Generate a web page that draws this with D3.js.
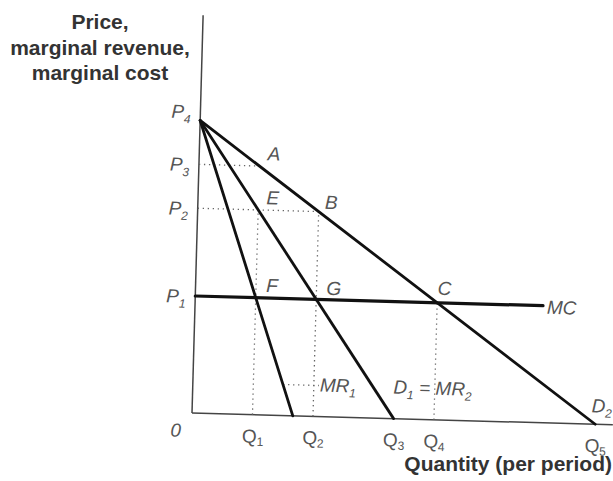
<!DOCTYPE html>
<html>
<head>
<meta charset="utf-8">
<script src="https://cdn.jsdelivr.net/npm/d3@7"></script>
<style>
  body { margin: 0; background: #fff; }
  svg { display: block; }
</style>
</head>
<body>
<div id="chart"></div>
<script>
// price levels on the vertical axis
const priceNames = ["P1", "P2", "P3", "P4"];
const priceLevels = [4, 7, 8.5, 10];

// quantity levels on the horizontal axis
const qtyNames = ["Q1", "Q2", "Q3", "Q4", "Q5"];
const qtyLevels = [1.2, 2.4, 4, 4.8, 8];

// the four curves: [q, p] start and end
const curveNames = ["D2", "D1=MR2", "MR1", "MC"];
const curveFrom = [[0, 10], [0, 10], [0, 10], [0, 4]];
const curveTo = [[8, 0], [4, 0], [2, 0], [6.9, 4]];

// labelled points
const pointNames = ["A", "B", "C", "E", "F", "G"];
const pointQ = [1.2, 2.4, 4.8, 1.2, 1.2, 2.4];
const pointP = [8.5, 7, 4, 7, 4, 4];

// dotted guide lines: [q1, p1, q2, p2]
const guides = [
  [0, 8.5, 1.2, 8.5],   // P3 -> A
  [0, 7, 2.4, 7],       // P2 -> B
  [1.2, 0, 1.2, 7],     // Q1 -> E
  [2.4, 0, 2.4, 7],     // Q2 -> B
  [4.8, 0, 4.8, 4],     // Q4 -> C
  [1.79, 1.06, 2.5, 1.06] // leader to MR1 label
];

const width = 613, height = 481;
const origin = { x: 192, y: 413 };
const tilt = 1.6; // the scan is a little rotated

const svg = d3.select("#chart").append("svg")
  .attr("width", width)
  .attr("height", height);

// y axis title, three lines
const title = ["Price,", "marginal revenue,", "marginal cost"];
svg.append("g").selectAll("text")
  .data(title)
  .enter().append("text")
  .attr("x", 100)
  .attr("y", (d, i) => 29 + i * 25.5)
  .attr("text-anchor", "middle")
  .style("font-family", "Liberation Sans, Arial, sans-serif")
  .style("font-weight", "bold")
  .style("font-size", "21px")
  .style("fill", "#333")
  .text(d => d);

svg.append("text")
  .attr("x", 612)
  .attr("y", 471)
  .attr("text-anchor", "end")
  .style("font-family", "Liberation Sans, Arial, sans-serif")
  .style("font-weight", "bold")
  .style("font-size", "21px")
  .style("fill", "#333")
  .text("Quantity (per period)");

const g = svg.append("g")
  .attr("transform", "translate(" + origin.x + "," + origin.y + ") rotate(" + tilt + ")");

const x = d3.scaleLinear().domain([0, 8.35]).range([0, 421]);
const y = d3.scaleLinear().domain([0, 13.6]).range([0, -398]);

// axes
g.append("line")
  .attr("x1", x(0)).attr("y1", y(0))
  .attr("x2", x(0)).attr("y2", y(13.6))
  .style("stroke", "#444").style("stroke-width", 1.5);
g.append("line")
  .attr("x1", x(0)).attr("y1", y(0))
  .attr("x2", x(8.35)).attr("y2", y(0))
  .style("stroke", "#444").style("stroke-width", 1.5);

// dotted guides
g.selectAll(".guide")
  .data(guides)
  .enter().append("line")
  .attr("class", "guide")
  .attr("x1", d => x(d[0])).attr("y1", d => y(d[1]))
  .attr("x2", d => x(d[2])).attr("y2", d => y(d[3]))
  .style("stroke", "#666")
  .style("stroke-width", 1.3)
  .style("stroke-dasharray", "1.3,3.7");

// curves
g.selectAll(".curve")
  .data(curveNames)
  .enter().append("line")
  .attr("class", "curve")
  .attr("x1", (d, i) => x(curveFrom[i][0])).attr("y1", (d, i) => y(curveFrom[i][1]))
  .attr("x2", (d, i) => x(curveTo[i][0])).attr("y2", (d, i) => y(curveTo[i][1]))
  .style("stroke", "#111")
  .style("stroke-width", d => d === "MC" ? 3.2 : 2.8)
  .style("stroke-linecap", "round");

const italic = sel => sel
  .style("font-family", "Liberation Sans, Arial, sans-serif")
  .style("font-style", "italic")
  .style("font-size", "19px")
  .style("fill", "#555");

// subscript helper: "P4" -> P with small 4
function subLabel(sel, name, drop) {
  sel.append("tspan").text(name[0]);
  sel.append("tspan")
    .attr("dy", drop || 5)
    .style("font-size", "12px")
    .text(name.slice(1));
}

// price labels
priceNames.forEach((name, i) => {
  const t = g.append("text")
    .attr("x", x(0) - 29)
    .attr("y", y(priceLevels[i]) + (name === "P4" ? -2 : 7))
    .call(italic);
  subLabel(t, name);
});

// quantity labels
qtyNames.forEach((name, i) => {
  const t = g.append("text")
    .attr("x", x(qtyLevels[i]) - 10)
    .attr("y", y(0) + 28)
    .call(italic)
    .style("font-style", "normal");
  subLabel(t, name, 3);
});

g.append("text")
  .attr("x", x(0) - 21)
  .attr("y", y(0) + 24)
  .call(italic)
  .text("0");

// point labels
const pointOffset = { A: [8, -6], B: [6, -3], C: [0, -8], E: [8, -6], F: [10, -6], G: [10, -5] };
pointNames.forEach((name, i) => {
  g.append("text")
    .attr("x", x(pointQ[i]) + pointOffset[name][0])
    .attr("y", y(pointP[i]) + pointOffset[name][1])
    .call(italic)
    .text(name);
});

// curve labels
g.append("text")
  .attr("x", x(6.9) + 4)
  .attr("y", y(4) + 8)
  .call(italic)
  .text("MC");

const mr1 = g.append("text")
  .attr("x", x(2.5) + 1)
  .attr("y", y(1.06) + 6)
  .call(italic);
mr1.append("tspan").text("MR");
mr1.append("tspan").attr("dy", 5).style("font-size", "12px").text("1");

const d1 = g.append("text")
  .attr("x", x(3.98))
  .attr("y", y(1.06) + 6)
  .call(italic);
d1.append("tspan").text("D");
d1.append("tspan").attr("dy", 5).style("font-size", "12px").text("1");
d1.append("tspan").attr("dy", -5).text(" = MR");
d1.append("tspan").attr("dy", 5).style("font-size", "12px").text("2");

const d2 = g.append("text")
  .attr("x", x(8) - 4)
  .attr("y", y(0) - 12)
  .call(italic);
subLabel(d2, "D2");
</script>
</body>
</html>
